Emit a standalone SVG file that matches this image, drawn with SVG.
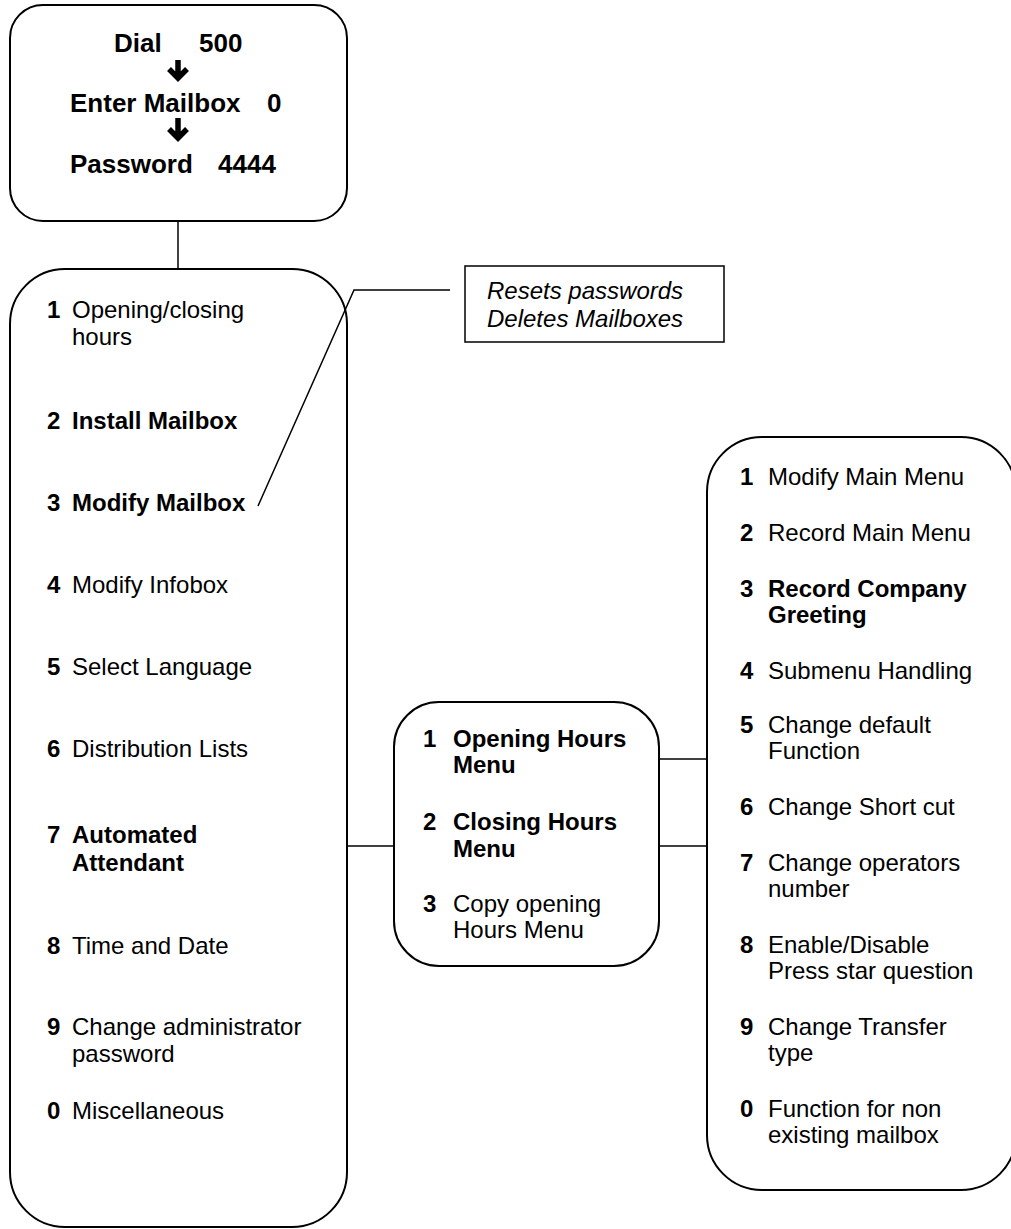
<svg xmlns="http://www.w3.org/2000/svg" width="1011" height="1229" viewBox="0 0 1011 1229">
<style>
text{font-family:"Liberation Sans",Arial,sans-serif;font-size:24px;fill:#000}
.b{font-weight:bold}
.t{font-size:26px;font-weight:bold}
.i{font-style:italic}
.box{fill:#fff;stroke:#000;stroke-width:2}
.ln{fill:none;stroke:#000;stroke-width:1.5}
.arr{fill:none;stroke:#000;stroke-width:5.5}
</style>
<rect width="1011" height="1229" fill="#fff"/>
<g id="login">
<rect class="box" x="10" y="5" width="337" height="216" rx="33" ry="33"/>
<text class="t" x="114" y="52">Dial</text>
<text class="t" x="199" y="52">500</text>
<path class="arr" d="M178,60 V78 M169,69 L178,78 L187,69"/>
<text class="t" x="70" y="112">Enter Mailbox</text>
<text class="t" x="267" y="112">0</text>
<path class="arr" d="M178,118 V138 M169,129 L178,138 L187,129"/>
<text class="t" x="70" y="173">Password</text>
<text class="t" x="218" y="173">4444</text>
</g>
<g id="main-menu">
<rect class="box" x="10" y="269" width="337" height="958" rx="55" ry="55"/>
<text class="b" x="47" y="318">1</text><text x="72" y="318">Opening/closing</text><text x="72" y="345">hours</text>
<text class="b" x="47" y="429">2</text><text class="b" x="72" y="429">Install Mailbox</text>
<text class="b" x="47" y="511">3</text><text class="b" x="72" y="511">Modify Mailbox</text>
<text class="b" x="47" y="593">4</text><text x="72" y="593">Modify Infobox</text>
<text class="b" x="47" y="675">5</text><text x="72" y="675">Select Language</text>
<text class="b" x="47" y="757">6</text><text x="72" y="757">Distribution Lists</text>
<text class="b" x="47" y="843">7</text><text class="b" x="72" y="843">Automated</text><text class="b" x="72" y="871">Attendant</text>
<text class="b" x="47" y="954">8</text><text x="72" y="954">Time and Date</text>
<text class="b" x="47" y="1035">9</text><text x="72" y="1035">Change administrator</text><text x="72" y="1062">password</text>
<text class="b" x="47" y="1119">0</text><text x="72" y="1119">Miscellaneous</text>
</g>
<g id="note">
<rect x="465" y="266" width="259" height="76" fill="#fff" stroke="#000" stroke-width="1.5"/>
<text class="i" x="487" y="299">Resets passwords</text>
<text class="i" x="487" y="327">Deletes Mailboxes</text>
</g>
<g id="attendant-menu">
<rect class="box" x="394" y="702" width="265" height="264" rx="45" ry="45"/>
<text class="b" x="423" y="747">1</text><text class="b" x="453" y="747">Opening Hours</text><text class="b" x="453" y="773">Menu</text>
<text class="b" x="423" y="830">2</text><text class="b" x="453" y="830">Closing Hours</text><text class="b" x="453" y="857">Menu</text>
<text class="b" x="423" y="912">3</text><text x="453" y="912">Copy opening</text><text x="453" y="938">Hours Menu</text>
</g>
<g id="hours-menu">
<rect class="box" x="707" y="437" width="309" height="753" rx="55" ry="55"/>
<text class="b" x="740" y="485">1</text><text x="768" y="485">Modify Main Menu</text>
<text class="b" x="740" y="541">2</text><text x="768" y="541">Record Main Menu</text>
<text class="b" x="740" y="597">3</text><text class="b" x="768" y="597">Record Company</text><text class="b" x="768" y="623">Greeting</text>
<text class="b" x="740" y="679">4</text><text x="768" y="679">Submenu Handling</text>
<text class="b" x="740" y="733">5</text><text x="768" y="733">Change default</text><text x="768" y="759">Function</text>
<text class="b" x="740" y="815">6</text><text x="768" y="815">Change Short cut</text>
<text class="b" x="740" y="871">7</text><text x="768" y="871">Change operators</text><text x="768" y="897">number</text>
<text class="b" x="740" y="953">8</text><text x="768" y="953">Enable/Disable</text><text x="768" y="979">Press star question</text>
<text class="b" x="740" y="1035">9</text><text x="768" y="1035">Change Transfer</text><text x="768" y="1061">type</text>
<text class="b" x="740" y="1117">0</text><text x="768" y="1117">Function for non</text><text x="768" y="1143">existing mailbox</text>
</g>
<g id="connectors">
<line class="ln" x1="178" y1="221" x2="178" y2="269"/>
<line class="ln" x1="347" y1="846" x2="394" y2="846"/>
<line class="ln" x1="659" y1="759" x2="707" y2="759"/>
<line class="ln" x1="659" y1="846" x2="707" y2="846"/>
<polyline class="ln" points="258,506 354,290 450,290"/>
</g>
</svg>
